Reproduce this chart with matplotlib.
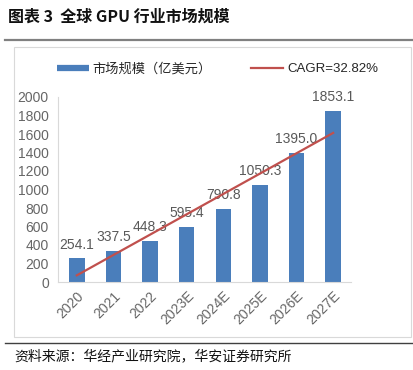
import matplotlib
matplotlib.use("Agg")
import matplotlib.pyplot as plt
from matplotlib.lines import Line2D
from matplotlib.patches import Rectangle

plt.rcParams['font.family'] = ['Liberation Sans', 'Noto Sans CJK SC', 'DejaVu Sans']

categories = ["2020", "2021", "2022", "2023E", "2024E", "2025E", "2026E", "2027E"]
market_size = [254.1, 337.5, 448.3, 595.4, 790.8, 1050.3, 1395.0, 1853.1]
trend_ends = [72, 1612]  # trendline values read at 2020 and 2027E
y_ticks = [0, 200, 400, 600, 800, 1000, 1200, 1400, 1600, 1800, 2000]
bar_label = "市场规模（亿美元）"
trend_label = "CAGR=32.82%"
title = "图表 3  全球 GPU 行业市场规模"
source = "资料来源：华经产业研究院，华安证券研究所"

W, H = 414, 370
fig = plt.figure(figsize=(W / 100, H / 100), dpi=100)

def fx(px):
    return px / W

def fy(py):
    return 1 - py / H

# title
fig.text(fx(8), fy(17), title, fontsize=11.5, fontweight='bold', color='#111111',
         family=['Noto Sans CJK SC', 'DejaVu Sans'], va='center', ha='left')
# header rule
fig.add_artist(Line2D([fx(5), fx(413)], [fy(40), fy(40)], color='#808080', lw=1.6))
# chart box
fig.add_artist(Rectangle((fx(14), fy(337)), fx(411) - fx(14), fy(47) - fy(337),
                         fill=False, edgecolor='#d9d9d9', lw=0.8))
# footer rule
fig.add_artist(Line2D([fx(5), fx(413)], [fy(343), fy(343)], color='#404040', lw=1.0))
fig.text(fx(14), fy(356), source, fontsize=10, color='#111111',
         family=['Noto Sans CJK SC', 'DejaVu Sans'], va='center', ha='left')

ax = fig.add_axes([fx(58.5), fy(282), fx(351.5) - fx(58.5), fy(97) - fy(282)])
x = list(range(len(categories)))
bars = ax.bar(x, market_size, width=0.42, color='#4a7ebb', zorder=2)
ax.plot([x[0], x[-1]], trend_ends, color='#c0504d', lw=1.6, zorder=3)

for xi, v in zip(x, market_size):
    ax.annotate(f"{v:.1f}", (xi, v), xytext=(0, 5), textcoords='offset points',
                ha='center', va='bottom', fontsize=10, color='#595959', zorder=1)

ax.set_xlim(-0.5, len(categories) - 0.5)
ax.set_ylim(0, 2000)
ax.set_yticks(y_ticks)
ax.set_yticklabels([str(t) for t in y_ticks])
ax.set_xticks(x)
ax.set_xticklabels(categories, rotation=45, ha='right', rotation_mode='anchor')
ax.tick_params(axis='both', length=0, labelsize=10, labelcolor='#666666')
ax.tick_params(axis='y', pad=7)
ax.tick_params(axis='x', pad=5)
for s in ['top', 'right']:
    ax.spines[s].set_visible(False)
ax.spines['left'].set_color('#d9d9d9')
ax.spines['bottom'].set_color('#d9d9d9')
ax.spines['left'].set_linewidth(0.8)
ax.spines['bottom'].set_linewidth(0.8)

handles = [Line2D([], [], color='#4a7ebb', lw=4.5, solid_capstyle='butt'),
           Line2D([], [], color='#c0504d', lw=1.6)]
fig.legend(handles, [bar_label, trend_label], loc='center left',
           bbox_to_anchor=(fx(45), fy(69)), ncol=2, frameon=False,
           fontsize=9.5, handlelength=2.4, handletextpad=0.3, columnspacing=3.0,
           labelcolor='#262626')

fig.savefig("out.png", dpi=100)
